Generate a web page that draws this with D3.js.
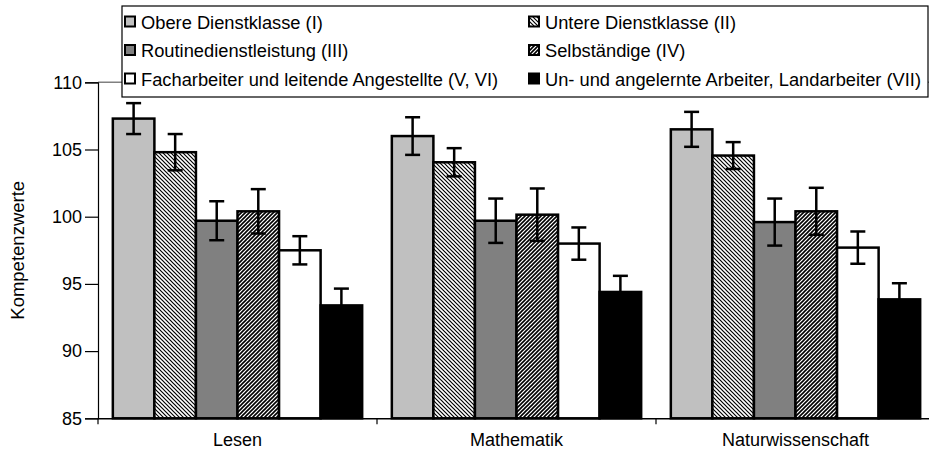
<!DOCTYPE html>
<html><head><meta charset="utf-8">
<script src="https://cdn.jsdelivr.net/npm/d3@7"></script>
<style>body{margin:0;background:#fff}svg{display:block;font-family:Arial,"Liberation Sans",sans-serif}</style>
</head><body><svg id="c" width="929" height="459"></svg>
<script>
const categories = ["Lesen", "Mathematik", "Naturwissenschaft"];
const seriesNames = ["Obere Dienstklasse (I)", "Untere Dienstklasse (II)", "Routinedienstleistung (III)", "Selbständige (IV)", "Facharbeiter und leitende Angestellte (V, VI)", "Un- und angelernte Arbeiter, Landarbeiter (VII)"];
const valuesLesen = [107.3, 104.8, 99.7, 100.4, 97.5, 93.4];
const valuesMathematik = [106.0, 104.05, 99.7, 100.15, 98.0, 94.4];
const valuesNatur = [106.5, 104.55, 99.6, 100.4, 97.7, 93.85];
const errLesen = [1.15, 1.35, 1.45, 1.65, 1.05, 1.25];
const errMathematik = [1.4, 1.05, 1.65, 1.95, 1.2, 1.2];
const errNatur = [1.3, 1.0, 1.75, 1.75, 1.2, 1.2];
const yTicks = [85, 90, 95, 100, 105, 110];

(function(){
const values = [valuesLesen, valuesMathematik, valuesNatur];
const errs = [errLesen, errMathematik, errNatur];
const fills = ["#c0c0c0", "url(#hatchB)", "#808080", "url(#hatchF)", "#ffffff", "#000000"];
const FF = "Arial, 'Liberation Sans', sans-serif";

const svg = d3.select("#c");
const defs = svg.append("defs");
const pB = defs.append("pattern").attr("id","hatchB").attr("patternUnits","userSpaceOnUse").attr("width",4).attr("height",4);
pB.append("rect").attr("width",4).attr("height",4).attr("fill","#fff");
pB.append("path").attr("d","M-1,-1 L5,5 M-1,3 L1,5 M3,-1 L5,1").attr("stroke","#000").attr("stroke-width",1.2);
const pF = defs.append("pattern").attr("id","hatchF").attr("patternUnits","userSpaceOnUse").attr("width",4).attr("height",4);
pF.append("rect").attr("width",4).attr("height",4).attr("fill","#fff");
pF.append("path").attr("d","M-1,5 L5,-1 M-1,1 L1,-1 M3,5 L5,3").attr("stroke","#000").attr("stroke-width",1.6);

const leftX = 98, topY = 82.3, bottomY = 418.3, step = 279;
const x = d3.scaleBand().domain(categories).range([leftX, leftX + step*3]).padding(0);
const xs = d3.scaleBand().domain(d3.range(6)).range([0, x.bandwidth()]).paddingInner(0).paddingOuter(0.357);
const y = d3.scaleLinear().domain([85, 110]).range([bottomY, topY]);

svg.append("line").attr("x1", leftX).attr("x2", 929).attr("y1", y(110)).attr("y2", y(110)).attr("stroke", "#808080").attr("stroke-width", 1.5);

categories.forEach((c, ci) => {
  const g = svg.append("g").attr("transform", `translate(${x(c)},0)`);
  g.selectAll("rect").data(values[ci]).join("rect")
    .attr("x", (d,i) => xs(i)).attr("width", xs.bandwidth())
    .attr("y", d => y(d)).attr("height", d => y(85) - y(d))
    .attr("fill", (d,i) => fills[i]).attr("stroke", "#000").attr("stroke-width", 2.5);
  const eb = g.selectAll("g.eb").data(values[ci]).join("g").attr("class","eb");
  const cx = (d,i)=>xs(i)+xs.bandwidth()/2;
  eb.append("line").attr("x1",cx).attr("x2",cx)
    .attr("y1",(d,i)=>y(d+errs[ci][i])).attr("y2",(d,i)=>y(d-errs[ci][i]));
  eb.append("line").attr("x1",(d,i)=>cx(d,i)-7.5).attr("x2",(d,i)=>cx(d,i)+7.5)
    .attr("y1",(d,i)=>y(d+errs[ci][i])).attr("y2",(d,i)=>y(d+errs[ci][i]));
  eb.append("line").attr("x1",(d,i)=>cx(d,i)-7.5).attr("x2",(d,i)=>cx(d,i)+7.5)
    .attr("y1",(d,i)=>y(d-errs[ci][i])).attr("y2",(d,i)=>y(d-errs[ci][i]));
  eb.selectAll("line").attr("stroke","#000").attr("stroke-width",2.5);
});

const ya = svg.append("g").attr("transform", `translate(${leftX},0)`)
  .call(d3.axisLeft(y).tickValues(yTicks).tickSize(13).tickPadding(3));
ya.select(".domain").attr("stroke","#000").attr("stroke-width",1.2);
ya.selectAll(".tick line").attr("stroke","#000").attr("stroke-width",1.2);
ya.selectAll(".tick text").attr("font-size",18).attr("fill","#000").attr("font-family",FF);

const xa = svg.append("g").attr("transform", `translate(0,${bottomY})`)
  .call(d3.axisBottom(x).tickSize(0).tickPadding(15));
xa.select(".domain").attr("stroke","#000").attr("stroke-width",1.5);
xa.selectAll(".tick text").attr("font-size",18).attr("fill","#000").attr("font-family",FF);
svg.append("g").selectAll("line").data(d3.range(4)).join("line")
  .attr("x1", i => leftX + i*step).attr("x2", i => leftX + i*step)
  .attr("y1", bottomY).attr("y2", bottomY + 6).attr("stroke", "#000").attr("stroke-width", 1.2);

svg.append("text").attr("transform", `translate(24,${(topY+bottomY)/2}) rotate(-90)`)
  .attr("text-anchor","middle").attr("font-size",18.5).text("Kompetenzwerte");

const lg = svg.append("g");
lg.append("rect").attr("x",122).attr("y",6).attr("width",806).attr("height",91)
  .attr("fill","#fff").attr("stroke","#000").attr("stroke-width",1.2);
const colX = [124, 528];
seriesNames.forEach((name, k) => {
  const col = k % 2, row = Math.floor(k/2);
  const cy = 22 + row*28.5;
  lg.append("rect").attr("x", colX[col]+1).attr("y", cy-5.5).attr("width", 10).attr("height", 10)
    .attr("fill", fills[k]).attr("stroke","#000").attr("stroke-width",2);
  lg.append("text").attr("x", colX[col]+17).attr("y", cy+6.5).attr("font-size",18.3).text(name);
});
})();
</script></body></html>
